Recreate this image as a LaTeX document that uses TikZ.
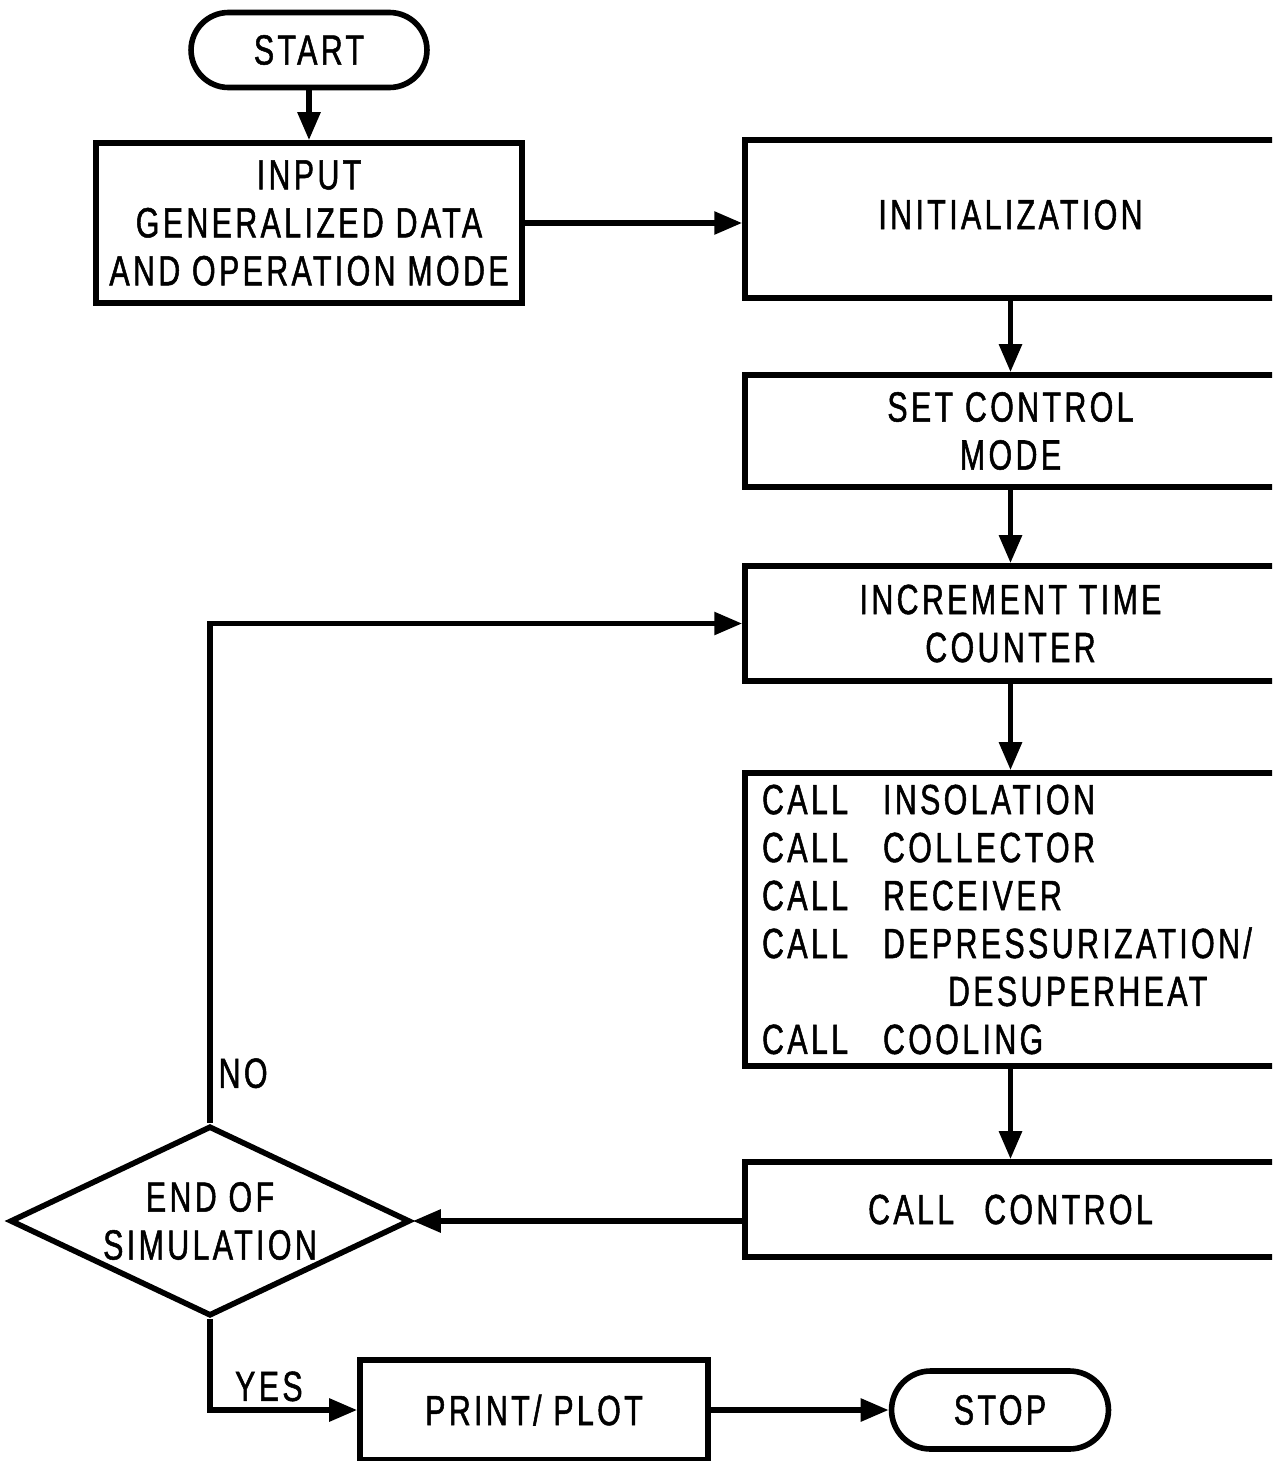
\documentclass[tikz,border=0pt]{standalone}
\usepackage{fontspec}
\setmainfont[FakeStretch=0.72,LetterSpace=8,FakeBold=1.2]{Liberation Sans}
\usetikzlibrary{arrows.meta,shapes.geometric,shapes.misc}

\begin{document}
\begin{tikzpicture}[
  x=0.02cm, y=-0.02cm,
  font=\fontsize{24}{27.3}\selectfont,
  block/.style={draw, line width=3.2pt, align=center, inner sep=2pt},
  term/.style={draw, line width=3.2pt, rounded rectangle, inner sep=2pt},
  decision/.style={draw, line width=3.2pt, diamond, shape aspect=2.3, inner sep=0pt, align=center, minimum width=8cm, minimum height=3.8cm},
  flow/.style={line width=3.2pt, -{Triangle[length=0.56cm, width=0.44cm]}}
]
\useasboundingbox (0,0) rectangle (1272,1461);
\clip (0,0) rectangle (1272,1461);

% Start and input
\node[term, minimum width=4.86cm, minimum height=1.5cm] (start) at (309,50) {START};
\node[block, minimum width=8.52cm, minimum height=3.2cm] (input) at (309,223) {INPUT\\GENERALIZED DATA\\AND OPERATION MODE};

% Main column (runs off the right edge)
\node[block, minimum width=10.62cm, minimum height=3.16cm] (init) at (1010.5,219) {\raisebox{0.18cm}{INITIALIZATION}};
\node[block, minimum width=10.62cm, minimum height=2.24cm] (set) at (1010.5,431) {SET CONTROL\\MODE};
\node[block, minimum width=10.62cm, minimum height=2.3cm] (inc) at (1010.5,623.5) {INCREMENT TIME\\COUNTER};
\node[block, align=left, text width=9.94cm, inner xsep=0.34cm, minimum height=5.86cm] (calls) at (1010.5,919.5) {%
  \makebox[2.42cm][l]{CALL}INSOLATION\\
  \makebox[2.42cm][l]{CALL}COLLECTOR\\
  \makebox[2.42cm][l]{CALL}RECEIVER\\
  \makebox[2.42cm][l]{CALL}DEPRESSURIZATION/\\
  \makebox[2.42cm][l]{}\hspace{1.3cm}DESUPERHEAT\\
  \makebox[2.42cm][l]{CALL}COOLING};
\node[block, minimum width=10.62cm, minimum height=1.9cm] (ctrl) at (1010.5,1209.5) {CALL\hspace{0.6cm}CONTROL};

% Decision and end
\node[decision] (dec) at (210,1221) {END OF\\SIMULATION};
\node[block, minimum width=6.96cm, minimum height=2cm] (print) at (534,1410) {PRINT/ PLOT};
\node[term, minimum width=4.48cm, minimum height=1.56cm] (stop) at (1000,1410) {STOP};

% Connectors
\draw[flow] (start.south) -- (input.north);
\draw[flow] (input.east) -- (input.east -| init.west);
\draw[flow] (init.south) -- (set.north);
\draw[flow] (set.south) -- (inc.north);
\draw[flow] (inc.south) -- (calls.north);
\draw[flow] (calls.south) -- (ctrl.north);
\draw[flow] (ctrl.west |- dec.east) -- (dec.east);
\draw[flow] (dec.north) |- node[pos=0.05, right] {NO} (inc.west);
\draw[flow] (dec.south) |- node[pos=0.7, above] {YES} (print.west);
\draw[flow] (print.east) -- (stop.west);
\end{tikzpicture}
\end{document}
